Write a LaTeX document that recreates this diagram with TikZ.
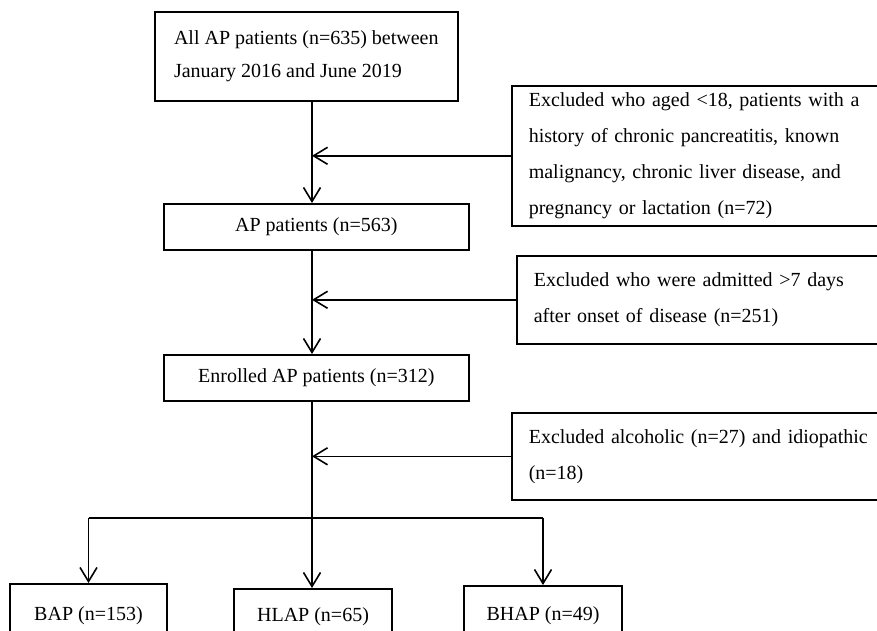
\documentclass[tikz,border=0pt]{standalone}
\usepackage{fontspec}
\setmainfont{Liberation Serif}
\usetikzlibrary{arrows.meta}
\begin{document}
\begin{tikzpicture}[x=1pt,y=-1pt,
  box/.style={draw,line width=1.6pt,rectangle,inner ysep=0pt,
    font=\fontsize{20}{36}\selectfont},
  leftbox/.style={box,anchor=north west,inner xsep=17pt,align=left},
  midbox/.style={box,anchor=north west,inner xsep=0pt,align=center},
  botbox/.style={box,anchor=north,inner xsep=0pt,align=center},
  conn/.style={line width=1.6pt},
  arr/.style={conn,-{Straight Barb[length=14pt,width=17pt,line width=1.6pt]}}]
\useasboundingbox (0,0) rectangle (877,630);
\clip (0,0) rectangle (877,630);
\fill[white] (0,0) rectangle (877,630);

\node[box,anchor=north west,inner xsep=0pt,align=left,minimum width=303pt,minimum height=89pt,
  font=\fontsize{20}{33}\selectfont] (top) at (154,11)
  {All AP patients (n=635) between\\January 2016 and June 2019};
\node[leftbox,minimum width=400pt,minimum height=140pt,text width=366pt] (ex1) at (511,85)
  {Excluded who aged <18, patients with a\\history of chronic pancreatitis, known\\malignancy, chronic liver disease, and\\pregnancy or lactation (n=72)};
\node[midbox,minimum width=305pt,minimum height=46pt] (ap) at (163,203) {AP patients (n=563)};
\node[leftbox,minimum width=400pt,minimum height=88pt,text width=366pt] (ex2) at (516,255)
  {Excluded who were admitted >7 days\\after onset of disease (n=251)};
\node[midbox,minimum width=305pt,minimum height=46pt] (enr) at (163,354) {Enrolled AP patients (n=312)};
\node[leftbox,minimum width=400pt,minimum height=87pt,text width=366pt] (ex3) at (511,412)
  {Excluded alcoholic (n=27) and idiopathic\\(n=18)};
\node[botbox,minimum width=157pt,minimum height=64pt] (bap) at (88.5,583) {BAP (n=153)};
\node[botbox,minimum width=158pt,minimum height=56pt] (hlap) at (313,588) {HLAP (n=65)};
\node[botbox,minimum width=158pt,minimum height=60pt] (bhap) at (543,585) {BHAP (n=49)};

\coordinate (sx) at (312,0);
\coordinate (br) at (312,518);

\draw[arr] (sx |- top.south) -- (sx |- ap.north);
\draw[arr] (ex1.west) -- (sx |- ex1.west);
\draw[arr] (sx |- ap.south) -- (sx |- enr.north);
\draw[arr] (ex2.west) -- (sx |- ex2.west);
\draw[arr] (sx |- enr.south) -- (sx |- hlap.north);
\draw[arr] (ex3.west) -- (sx |- ex3.west);
\draw[conn] (bap.north |- br) -- (bhap.north |- br);
\draw[arr] (bap.north |- br) -- (bap.north);
\draw[arr] (bhap.north |- br) -- (bhap.north);
\end{tikzpicture}
\end{document}
